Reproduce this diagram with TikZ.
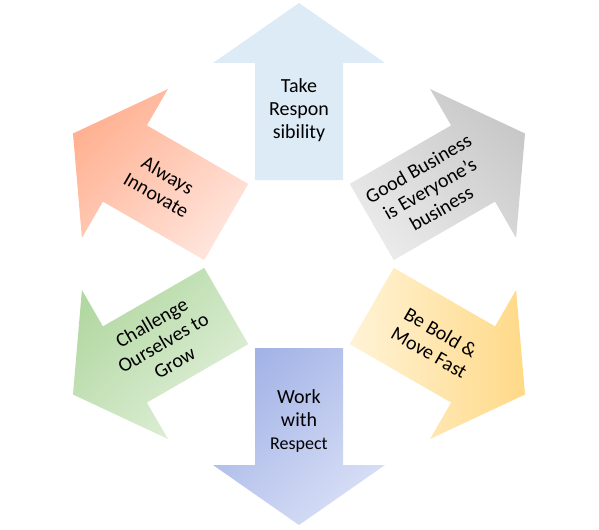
\documentclass[tikz,border=0pt]{standalone}
\usepackage{fontspec}
\setmainfont{Carlito}
\definecolor{takeBlue}{HTML}{DDEBF7}
\definecolor{goodGrayA}{HTML}{EAEAEA}
\definecolor{goodGrayB}{HTML}{C8C8C8}
\definecolor{boldGoldA}{HTML}{FFF3D6}
\definecolor{boldGoldB}{HTML}{FFD987}
\definecolor{workBlueA}{HTML}{A3B3E6}
\definecolor{workBlueB}{HTML}{D8DFF6}
\definecolor{growGreenA}{HTML}{B2D8A2}
\definecolor{growGreenB}{HTML}{E2F0DB}
\definecolor{innoRedA}{HTML}{FFB192}
\definecolor{innoRedB}{HTML}{FFE4DB}

\begin{document}
\begin{tikzpicture}[x=0.75pt, y=0.75pt,
      arrowtext/.style={font=\fontsize{15}{17.25}\selectfont, align=center, text=black, inner sep=0pt}]
    \useasboundingbox (-299,-265) rectangle (300,264);
    % six outward arrows round the centre
    \foreach \ang/\ca/\cb/\sh in {90/takeBlue/takeBlue/0, 30/goodGrayA/goodGrayB/135,
        -30/boldGoldA/boldGoldB/90, -90/workBlueA/workBlueB/45,
        -150/growGreenA/growGreenB/45, 150/innoRedA/innoRedB/45} {
      \shade[left color=\ca, right color=\cb, shading angle=\sh, rotate=\ang]
        (84,-44) -- (201,-44) -- (201,-86) -- (261,0) -- (201,86) -- (201,44) -- (84,44) -- cycle;
    }
    \node[arrowtext] (take) at (90:154) {Take\\Respon\\sibility};
    \node[arrowtext, rotate=30] (good) at (30:151) {Good Business\\is Everyone's\\business};
    \node[arrowtext, rotate=-30] (bold) at (-30:157) {Be Bold \&\\Move Fast};
    \node[arrowtext] (work) at (-90:157) {Work\\with\\{\fontsize{13.5}{16}\selectfont Respect}};
    \node[arrowtext, rotate=30] (grow) at (-150:157) {Challenge\\Ourselves to\\Grow};
    \node[arrowtext, rotate=-30] (innovate) at (150:158) {Always\\Innovate};
  \end{tikzpicture}
\end{document}
